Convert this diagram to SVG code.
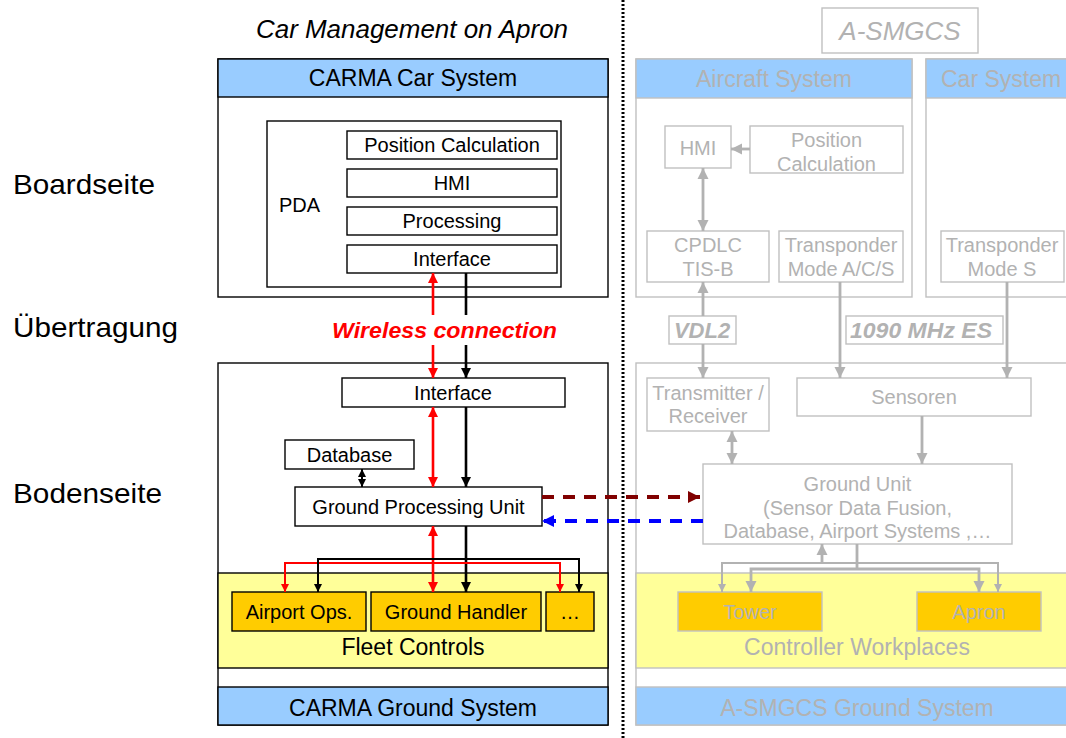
<svg xmlns="http://www.w3.org/2000/svg" width="1066" height="738" viewBox="0 0 1066 738">
<style>
text{font-family:"Liberation Sans",Arial,sans-serif;}
.t20{font-size:20px;text-anchor:middle;fill:#000;}
.t23{font-size:23px;text-anchor:middle;fill:#000;}
.g20{font-size:20px;text-anchor:middle;fill:#b2b2b2;}
.g23{font-size:23px;text-anchor:middle;fill:#b2b2b2;}
.side{font-size:28px;fill:#000;}
.bx{fill:#fff;stroke:#000;stroke-width:1.4;}
.hd{fill:#99ccff;stroke:#000;stroke-width:1.4;}
.yl{fill:#ffff99;stroke:#000;stroke-width:1.4;}
.or{fill:#ffcc00;stroke:#000;stroke-width:1.4;}
.gbx{fill:#fff;stroke:#c0c0c0;stroke-width:1.4;}
.ghd{fill:#99ccff;stroke:#c0c0c0;stroke-width:1.4;}
.gyl{fill:#ffff99;stroke:#c0c0c0;stroke-width:1.4;}
.gor{fill:#ffcc00;stroke:#c0c0c0;stroke-width:1.4;}
.red{stroke:#ff0000;stroke-width:2.6;fill:none;}
.blk{stroke:#000;stroke-width:2.6;fill:none;}
.gry{stroke:#b2b2b2;stroke-width:2.8;fill:none;}
</style>
<defs>
<marker id="ar" viewBox="0 0 10 10" refX="10" refY="5" markerWidth="4" markerHeight="4" orient="auto-start-reverse" markerUnits="strokeWidth"><path d="M0,0 L10,5 L0,10 z" fill="#ff0000"/></marker>
<marker id="ab" viewBox="0 0 10 10" refX="10" refY="5" markerWidth="4" markerHeight="4" orient="auto-start-reverse" markerUnits="strokeWidth"><path d="M0,0 L10,5 L0,10 z" fill="#000"/></marker>
<marker id="ag" viewBox="0 0 10 10" refX="10" refY="5" markerWidth="4" markerHeight="4" orient="auto-start-reverse" markerUnits="strokeWidth"><path d="M0,0 L10,5 L0,10 z" fill="#b2b2b2"/></marker>
<marker id="adr" viewBox="0 0 10 10" refX="10" refY="5" markerWidth="3" markerHeight="3" orient="auto" markerUnits="strokeWidth"><path d="M0,0 L10,5 L0,10 z" fill="#800000"/></marker>
<marker id="abl" viewBox="0 0 10 10" refX="10" refY="5" markerWidth="3" markerHeight="3" orient="auto" markerUnits="strokeWidth"><path d="M0,0 L10,5 L0,10 z" fill="#0000ff"/></marker>
</defs>
<rect width="1066" height="738" fill="#fff"/>

<!-- side labels -->
<text class="side" x="13" y="194" textLength="142" lengthAdjust="spacingAndGlyphs">Boardseite</text>
<text class="side" x="13" y="337" textLength="165" lengthAdjust="spacingAndGlyphs">Übertragung</text>
<text class="side" x="13" y="503" textLength="149" lengthAdjust="spacingAndGlyphs">Bodenseite</text>
<text x="256" y="38" textLength="312" lengthAdjust="spacingAndGlyphs" style="font-size:26px;font-style:italic">Car Management on Apron</text>

<!-- divider -->
<line x1="623" y1="0" x2="623" y2="738" stroke="#000" stroke-width="3" stroke-dasharray="2 2"/>

<!-- LEFT: car system -->
<g id="carma-car">
<rect class="bx" x="218" y="59" width="390" height="238"/>
<rect class="hd" x="218" y="59" width="390" height="38"/>
<text class="t23" x="413" y="86">CARMA Car System</text>
</g>
<g id="pda">
<rect class="bx" x="267" y="121" width="294" height="166"/>
<text x="279" y="212" style="font-size:20px">PDA</text>
</g>
<g id="pda-poscalc"><rect class="bx" x="347" y="131" width="210" height="28"/><text class="t20" x="452" y="152">Position Calculation</text></g>
<g id="pda-hmi"><rect class="bx" x="347" y="169" width="210" height="28"/><text class="t20" x="452" y="190">HMI</text></g>
<g id="pda-proc"><rect class="bx" x="347" y="207" width="210" height="28"/><text class="t20" x="452" y="228">Processing</text></g>
<g id="pda-if"><rect class="bx" x="347" y="245" width="210" height="28"/><text class="t20" x="452" y="266">Interface</text></g>

<!-- LEFT: ground system -->
<g id="carma-ground">
<rect class="bx" x="218" y="363" width="390" height="362"/>
<rect class="yl" x="218" y="573" width="390" height="95"/>
<rect class="hd" x="218" y="687" width="390" height="38"/>
<text class="t23" x="413" y="655">Fleet Controls</text>
<text class="t23" x="413" y="716">CARMA Ground System</text>
</g>
<g id="g-if"><rect class="bx" x="342" y="378" width="223" height="29"/><text class="t20" x="453" y="400">Interface</text></g>
<g id="g-db"><rect class="bx" x="285" y="440" width="129" height="29"/><text class="t20" x="349.5" y="462">Database</text></g>
<g id="g-gpu"><rect class="bx" x="295" y="487" width="247" height="39"/><text class="t20" x="418.5" y="514">Ground Processing Unit</text></g>
<g id="g-aops"><rect class="or" x="232" y="592" width="134" height="39"/><text class="t20" x="299" y="619">Airport Ops.</text></g>
<g id="g-gh"><rect class="or" x="371" y="592" width="170" height="39"/><text class="t20" x="456" y="619">Ground Handler</text></g>
<g id="g-more"><rect class="or" x="546" y="592" width="48" height="39"/><text class="t20" x="570" y="619">…</text></g>

<!-- RIGHT: A-SMGCS -->
<g id="asmgcs-title"><rect class="gbx" x="822" y="8" width="156" height="45"/><text x="900" y="40" style="font-size:26px;font-style:italic;text-anchor:middle;fill:#b2b2b2">A-SMGCS</text></g>
<g id="aircraft-sys">
<rect class="gbx" x="636" y="59" width="276" height="238"/>
<rect class="ghd" x="636" y="59" width="276" height="39"/>
<text class="g23" x="774" y="87">Aircraft System</text>
</g>
<g id="car-sys">
<rect class="gbx" x="926" y="59" width="150" height="238"/>
<rect class="ghd" x="926" y="59" width="150" height="39"/>
<text x="941" y="87" style="font-size:23px;fill:#b2b2b2">Car System</text>
</g>
<g id="a-hmi"><rect class="gbx" x="665" y="126" width="66" height="42"/><text class="g20" x="698" y="155">HMI</text></g>
<g id="a-pos"><rect class="gbx" x="750" y="126" width="153" height="47"/><text class="g20" x="826.5" y="147">Position</text><text class="g20" x="826.5" y="171">Calculation</text></g>
<g id="a-cpdlc"><rect class="gbx" x="647" y="231" width="122" height="51"/><text class="g20" x="708" y="252">CPDLC</text><text class="g20" x="708" y="276">TIS-B</text></g>
<g id="a-trans"><rect class="gbx" x="779" y="231" width="124" height="51"/><text class="g20" x="841" y="252">Transponder</text><text class="g20" x="841" y="276">Mode A/C/S</text></g>
<g id="c-trans"><rect class="gbx" x="941" y="231" width="123" height="51"/><text class="g20" x="1002" y="252">Transponder</text><text class="g20" x="1002" y="276">Mode S</text></g>
<g id="vdl2"><rect class="gbx" x="669" y="316" width="67" height="28"/><text x="702" y="338" style="font-size:22px;font-weight:bold;font-style:italic;text-anchor:middle;fill:#b2b2b2">VDL2</text></g>
<g id="es1090"><rect class="gbx" x="846" y="316" width="157" height="28"/><text x="921" y="338" textLength="142" lengthAdjust="spacingAndGlyphs" style="font-size:22px;font-weight:bold;font-style:italic;text-anchor:middle;fill:#b2b2b2">1090 MHz ES</text></g>

<g id="asmgcs-ground">
<rect class="gbx" x="636" y="363" width="440" height="362"/>
<rect class="gyl" x="636" y="573" width="440" height="95"/>
<rect class="ghd" x="636" y="687" width="440" height="38"/>
<text class="g23" x="857" y="655">Controller Workplaces</text>
<text class="g23" x="857" y="716">A-SMGCS Ground System</text>
</g>
<g id="r-tr"><rect class="gbx" x="647" y="378" width="122" height="53"/><text class="g20" x="708" y="400">Transmitter /</text><text class="g20" x="708" y="423">Receiver</text></g>
<g id="r-sens"><rect class="gbx" x="797" y="378" width="234" height="38"/><text class="g20" x="914" y="404">Sensoren</text></g>
<g id="r-gu"><rect class="gbx" x="703" y="464" width="309" height="80"/><text class="g20" x="857.5" y="491">Ground Unit</text><text class="g20" x="857.5" y="515">(Sensor Data Fusion,</text><text class="g20" x="857.5" y="538">Database, Airport Systems ,…</text></g>
<g id="r-tower"><rect class="gor" x="678" y="592" width="144" height="39"/><text class="g20" x="750" y="619">Tower</text></g>
<g id="r-apron"><rect class="gor" x="917" y="592" width="124" height="39"/><text class="g20" x="979" y="619">Apron</text></g>

<!-- connectors -->
<g id="connectors">
<!-- wireless -->
<line class="red" x1="433" y1="315" x2="433" y2="273" marker-end="url(#ar)"/>
<line class="red" x1="433" y1="345" x2="433" y2="378" marker-end="url(#ar)"/>
<line class="blk" x1="466" y1="273" x2="466" y2="315"/>
<line class="blk" x1="466" y1="345" x2="466" y2="378" marker-end="url(#ab)"/>
<text x="332" y="338" textLength="225" lengthAdjust="spacingAndGlyphs" style="font-size:22px;font-weight:bold;font-style:italic;fill:#ff0000">Wireless connection</text>
<!-- interface to GPU -->
<line class="red" x1="433" y1="407" x2="433" y2="487" marker-start="url(#ar)" marker-end="url(#ar)"/>
<line class="blk" x1="466" y1="407" x2="466" y2="487" marker-end="url(#ab)"/>
<line stroke="#000" stroke-width="2" x1="362" y1="469" x2="362" y2="487" marker-start="url(#ab)" marker-end="url(#ab)"/>
<!-- GPU to fleet -->
<line class="red" x1="433" y1="526" x2="433" y2="592" marker-start="url(#ar)" marker-end="url(#ar)"/>
<line class="blk" x1="466" y1="526" x2="466" y2="592" marker-end="url(#ab)"/>
<polyline stroke="#ff0000" stroke-width="2" fill="none" points="285,592 285,563 560,563 560,592" marker-start="url(#ar)" marker-end="url(#ar)"/>
<polyline stroke="#000" stroke-width="2" fill="none" points="318,592 318,559 579,559 579,592" marker-start="url(#ab)" marker-end="url(#ab)"/>
<!-- cross-system dashed -->
<line x1="542" y1="497" x2="700" y2="497" stroke="#800000" stroke-width="4" stroke-dasharray="12 9" marker-end="url(#adr)"/>
<line x1="703" y1="521" x2="542" y2="521" stroke="#0000ff" stroke-width="4" stroke-dasharray="12 9" marker-end="url(#abl)"/>
<!-- gray right -->
<line class="gry" x1="750" y1="149" x2="731" y2="149" marker-end="url(#ag)"/>
<line class="gry" x1="703" y1="168" x2="703" y2="231" marker-start="url(#ag)" marker-end="url(#ag)"/>
<line class="gry" x1="703" y1="316" x2="703" y2="282" marker-end="url(#ag)"/>
<line class="gry" x1="703" y1="344" x2="703" y2="378" marker-end="url(#ag)"/>
<line class="gry" x1="840" y1="282" x2="840" y2="378" marker-end="url(#ag)"/>
<line class="gry" x1="1007" y1="282" x2="1007" y2="378" marker-end="url(#ag)"/>
<line class="gry" x1="732" y1="431" x2="732" y2="464" marker-start="url(#ag)" marker-end="url(#ag)"/>
<line class="gry" x1="922" y1="416" x2="922" y2="464" marker-end="url(#ag)"/>
<line class="gry" x1="822" y1="563" x2="822" y2="544" marker-end="url(#ag)"/>
<line class="gry" x1="857" y1="544" x2="857" y2="569"/>
<polyline stroke="#b2b2b2" stroke-width="2" fill="none" points="722,592 722,563 998,563 998,592" marker-start="url(#ag)" marker-end="url(#ag)"/>
<polyline stroke="#b2b2b2" stroke-width="2.8" fill="none" points="751,592 751,569 979,569 979,592" marker-start="url(#ag)" marker-end="url(#ag)"/>
</g>
</svg>
